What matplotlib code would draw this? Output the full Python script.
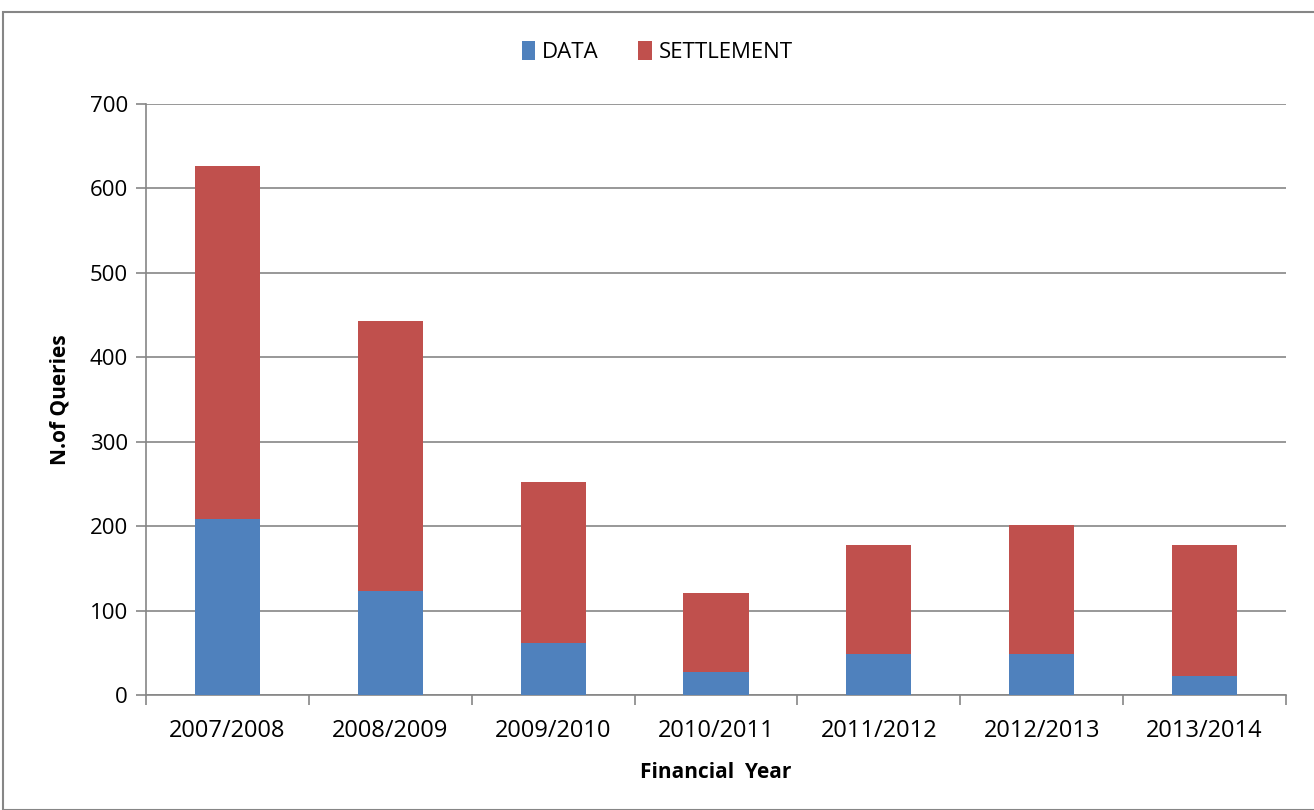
import numpy as np
import matplotlib.pyplot as plt
from matplotlib.patches import Rectangle

# DATA
years = ["2007/2008", "2008/2009", "2009/2010", "2010/2011",
         "2011/2012", "2012/2013", "2013/2014"]
data_q = [208, 123, 62, 27, 48, 48, 22]
settlement_q = [418, 320, 190, 94, 130, 153, 156]

plt.rcParams['font.family'] = ['Open Sans', 'DejaVu Sans']

fig = plt.figure(figsize=(13.14, 8.10), dpi=100)
ax = fig.add_axes([146/1314, 1-695/810, (1286-146)/1314, (695-104)/810])

# outer chart border
fig.patches.append(Rectangle((3/1314, 0.0), 1.0, 1-12/810, transform=fig.transFigure,
                             fill=False, edgecolor="#868686", linewidth=1.5))

x = np.arange(len(years))
ax.bar(x, data_q, width=0.4, color="#4F81BD", label="DATA", zorder=3)
ax.bar(x, settlement_q, width=0.4, bottom=data_q, color="#C0504D",
       label="SETTLEMENT", zorder=3)

ax.set_xlim(-0.5, len(years) - 0.5)
ax.set_ylim(0, 700)
ax.set_yticks(range(0, 701, 100))
ax.yaxis.grid(True, color="#868686", linewidth=1.2, zorder=0)
ax.set_xticks(x)
ax.set_xticklabels(years)
ax.set_xticks(np.arange(-0.5, len(years), 1), minor=True)
ax.tick_params(axis="x", which="major", length=0, pad=17, labelsize=17)
ax.tick_params(axis="x", which="minor", length=7, color="#868686", width=1.2)
ax.tick_params(axis="y", length=7, color="#868686", width=1.2, labelsize=16, pad=6)

for s in ["top", "right"]:
    ax.spines[s].set_visible(False)
for s in ["left", "bottom"]:
    ax.spines[s].set_color("#868686")
    ax.spines[s].set_linewidth(1.2)

ax.set_xlabel("Financial  Year", fontsize=15, fontweight="bold", labelpad=14)
ax.set_ylabel("N.of Queries", fontsize=15, fontweight="bold", labelpad=14)

fig.legend(loc="center", bbox_to_anchor=(0.5, 1-52/810), ncol=2, frameon=False,
           fontsize=16, handlelength=0.6, handleheight=0.9, handletextpad=0.3,
           columnspacing=1.8)

fig.savefig("out.png", dpi=100)
